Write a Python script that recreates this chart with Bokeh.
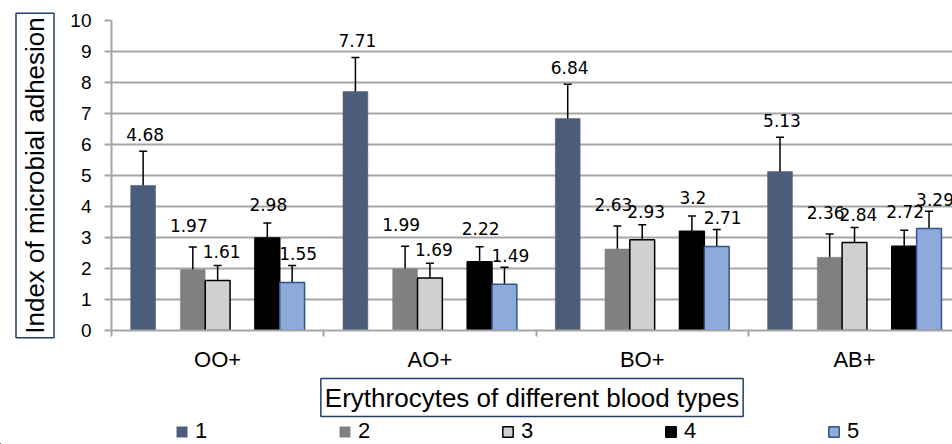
from bokeh.plotting import figure
from bokeh.layouts import column
from bokeh.models import (ColumnDataSource, Range1d, FixedTicker, Whisker, TeeHead,
                          LabelSet, Title, Legend, LegendItem)
from bokeh.embed import file_html
from bokeh.resources import INLINE
from bokeh.core.properties import value

# ---------------- data ----------------
categories = ["OO+", "AO+", "BO+", "AB+"]
series_names = ["1", "2", "3", "4", "5"]
s1 = [4.68, 7.71, 6.84, 5.13]
s2 = [1.97, 1.99, 2.63, 2.36]
s3 = [1.61, 1.69, 2.93, 2.84]
s4 = [2.98, 2.22, 3.20, 2.72]
s5 = [1.55, 1.49, 2.71, 3.29]
e1 = [1.10, 1.10, 1.10, 1.10]
e2 = [0.72, 0.73, 0.74, 0.75]
e3 = [0.49, 0.48, 0.48, 0.48]
e4 = [0.49, 0.48, 0.49, 0.51]
e5 = [0.55, 0.55, 0.55, 0.56]
y_ticks = [0, 1, 2, 3, 4, 5, 6, 7, 8, 9, 10]

values = [s1, s2, s3, s4, s5]
errors = [e1, e2, e3, e4, e5]

# ---------------- styles ----------------
fills = ["#4b5d79", "#808080", "#d0d0d0", "#000000", "#8eaadb"]
outlines = [None, None, "#000000", "#000000", "#2e5688"]
slot_w = 0.117
slots = [-3, -1, 0, 2, 3]
label_dx = [2, -4, 4, 1, 6]          # px nudges of value labels per series
label_dy = [10, 15, 7, 12, 5]        # px above the error-bar cap (baseline)
GRID = "#a6a6a6"
SANS = "Liberation Sans"
BOX = "#243f66"

p = figure(width=952, height=418, output_backend="svg", toolbar_location=None,
           x_range=Range1d(0, 845 / 213.3), y_range=Range1d(0, 10),
           min_border_left=107, min_border_right=0, min_border_top=20,
           min_border_bottom=86)
p.outline_line_color = None
p.background_fill_color = "white"
p.border_fill_color = "white"

bar_styles = []
sources = []
for k in range(5):
    xs = [i + 0.5 + slots[k] * slot_w for i in range(len(categories))]
    src = ColumnDataSource(dict(
        x=xs, top=values[k],
        upper=[v + e for v, e in zip(values[k], errors[k])],
        lower=[v - e for v, e in zip(values[k], errors[k])],
        label=[f"{v:g}" for v in values[k]],
    ))
    sources.append(src)
    style = dict(fill_color=fills[k],
                 line_color=outlines[k] if outlines[k] else fills[k],
                 line_width=1.5 if outlines[k] else 0.5)
    bar_styles.append(style)
    p.vbar(x="x", top="top", bottom=0, width=slot_w, source=src, **style)
    w = Whisker(base="x", upper="upper", lower="lower", source=src,
                line_color="black", line_width=1.5,
                upper_head=TeeHead(size=8, line_color="black", line_width=1.5),
                lower_head=TeeHead(size=8, line_color="black", line_width=1.5))
    p.add_layout(w)
    ls = LabelSet(x="x", y="upper", text="label", source=src,
                  text_align="center", text_baseline="alphabetic",
                  x_offset=label_dx[k], y_offset=label_dy[k],
                  text_font=value("DejaVu Sans"), text_font_size="17px",
                  text_color="black")
    p.add_layout(ls)

# axes
p.xgrid.visible = False
p.ygrid.grid_line_color = GRID
p.ygrid.grid_line_width = 2

p.yaxis.ticker = FixedTicker(ticks=y_ticks)
p.yaxis.axis_line_color = GRID
p.yaxis.axis_line_width = 2
p.yaxis.major_tick_line_color = GRID
p.yaxis.major_tick_line_width = 2
p.yaxis.major_tick_out = 7
p.yaxis.major_tick_in = 0
p.yaxis.minor_tick_line_color = None
p.yaxis.major_label_standoff = 13
p.yaxis.major_label_text_font = SANS
p.yaxis.major_label_text_font_size = "19px"
p.yaxis.major_label_text_color = "black"

centers = [i + 0.5 for i in range(len(categories))]
bounds = [float(i) for i in range(len(categories))]
p.xaxis.ticker = FixedTicker(ticks=centers, minor_ticks=bounds)
p.xaxis.major_label_overrides = {c: name for c, name in zip(centers, categories)}
p.xaxis.axis_line_color = GRID
p.xaxis.axis_line_width = 2
p.xaxis.major_tick_line_color = None
p.xaxis.major_tick_out = 6
p.xaxis.minor_tick_line_color = GRID
p.xaxis.minor_tick_line_width = 2
p.xaxis.minor_tick_out = 6
p.xaxis.minor_tick_in = 0
p.xaxis.major_label_standoff = 10
p.xaxis.major_label_text_font = SANS
p.xaxis.major_label_text_font_size = "22px"
p.xaxis.major_label_text_color = "black"

# axis titles in boxes
ytitle = Title(text="Index of microbial adhesion", align="center",
               text_font=SANS, text_font_size="26px", text_font_style="normal",
               text_color="black", border_line_color=BOX, border_line_width=1.5,
               background_fill_color="white", padding=4, standoff=27)
p.add_layout(ytitle, "left")
xtitle = Title(text="Erythrocytes of different blood types", align="center",
               text_font=SANS, text_font_size="26px", text_font_style="normal",
               text_color="black", border_line_color=BOX, border_line_width=1.5,
               background_fill_color="white", padding=4, standoff=4)
p.add_layout(xtitle, "below")

# legend strip under the chart (its proxy bars lie outside its visible ranges)
q = figure(width=952, height=26, output_backend="svg", toolbar_location=None,
           x_range=Range1d(100, 101), y_range=Range1d(100, 101),
           x_axis_type=None, y_axis_type=None,
           min_border_left=0, min_border_right=0, min_border_top=0,
           min_border_bottom=0)
q.frame_align = False
q.outline_line_color = None
q.xgrid.visible = False
q.ygrid.visible = False
proxies = [q.vbar(x="x", top="top", bottom=0, width=slot_w, source=s, **st)
           for s, st in zip(sources, bar_styles)]
legend = Legend(items=[LegendItem(label=n, renderers=[r]) for n, r in zip(series_names, proxies)],
                orientation="horizontal", location=(175, 0),
                glyph_width=13, glyph_height=13, label_standoff=7,
                label_width=20, spacing=123, padding=0, margin=0,
                border_line_color=None, background_fill_alpha=0,
                label_text_font=SANS, label_text_font_size="22px",
                label_text_color="black")
q.add_layout(legend)

layout = column(p, q, spacing=0)
open("out.html", "w").write(file_html(layout, INLINE))
